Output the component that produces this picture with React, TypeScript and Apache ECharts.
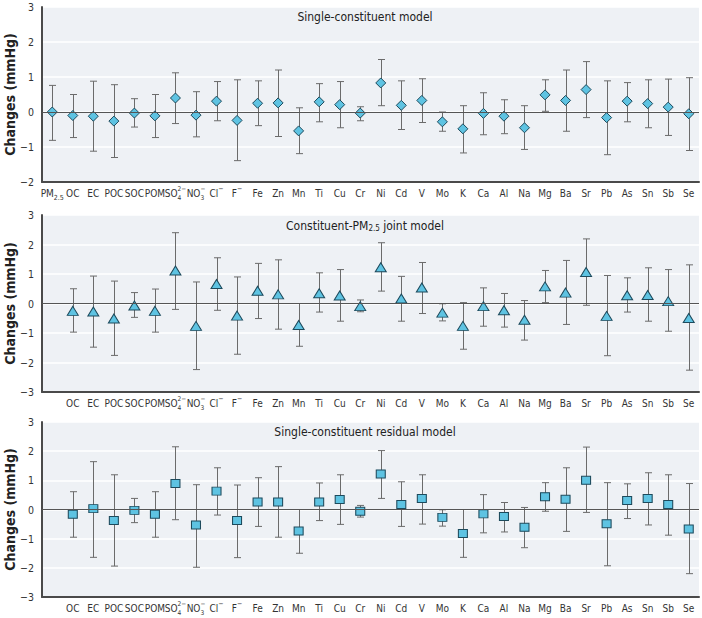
import { useEffect, useRef } from "react";
import * as echarts from "echarts";

const categories = ["PM2.5","OC","EC","POC","SOC","POM","SO4","NO3","Cl","F","Fe","Zn","Mn","Ti","Cu","Cr","Ni","Cd","V","Mo","K","Ca","Al","Na","Mg","Ba","Sr","Pb","As","Sn","Sb","Se"];

const labelRich: Record<string, string> = {
  "PM2.5": "PM{sub|2.5}",
  "SO4": "{b|SO}{st|4}{sp|2−}",
  "NO3": "{b|NO}{st|3}{sp|−}",
  "Cl": "Cl{sup|−}",
  "F": "F{sup|−}",
};

const panelTitles = ["Single-constituent model", "Constituent-PM{sub|2.5} joint model", "Single-constituent residual model"];
const yTitle = "Changes (mmHg)";

// Panel 1: single-constituent model
const single = [0.0,-0.10,-0.12,-0.26,-0.03,-0.11,0.40,-0.09,0.31,-0.24,0.25,0.26,-0.54,0.29,0.21,-0.03,0.83,0.19,0.33,-0.28,-0.48,-0.04,-0.12,-0.45,0.49,0.33,0.64,-0.16,0.31,0.24,0.14,-0.05];
const singleLo = [-0.81,-0.73,-1.12,-1.30,-0.43,-0.73,-0.33,-0.71,-0.25,-1.39,-0.39,-0.70,-1.19,-0.28,-0.45,-0.25,0.18,-0.50,-0.30,-0.55,-1.17,-0.65,-0.62,-1.07,0.02,-0.55,-0.16,-1.22,-0.28,-0.45,-0.67,-1.10];
const singleHi = [0.76,0.50,0.88,0.78,0.38,0.50,1.12,0.58,0.87,0.92,0.89,1.20,0.12,0.81,0.87,0.15,1.50,0.89,0.95,0.0,0.18,0.55,0.35,0.18,0.92,1.20,1.44,0.89,0.84,0.92,0.94,0.98];

// Panel 2: constituent-PM2.5 joint model
const joint = [null,-0.25,-0.27,-0.51,-0.07,-0.25,1.12,-0.76,0.66,-0.41,0.43,0.31,-0.73,0.35,0.27,-0.09,1.23,0.17,0.54,-0.31,-0.76,-0.09,-0.23,-0.55,0.58,0.37,1.07,-0.42,0.28,0.29,0.08,-0.49];
const jointLo = [null,-0.97,-1.48,-1.76,-0.47,-0.97,-0.20,-2.24,-0.23,-1.72,-0.51,-0.87,-1.45,-0.29,-0.60,-0.28,0.42,-0.60,-0.34,-0.59,-1.55,-0.77,-0.80,-1.24,0.03,-0.71,-0.06,-1.77,-0.29,-0.60,-0.94,-2.26];
const jointHi = [null,0.50,0.93,0.76,0.37,0.49,2.40,0.73,1.55,0.90,1.36,1.48,0.0,1.04,1.15,0.12,2.06,0.92,1.39,-0.01,0.03,0.53,0.34,0.10,1.12,1.46,2.19,0.95,0.87,1.21,1.15,1.31];

// Panel 3: single-constituent residual model
const residual = [null,-0.16,0.03,-0.38,-0.03,-0.16,0.89,-0.53,0.63,-0.38,0.26,0.26,-0.74,0.26,0.34,-0.06,1.22,0.17,0.38,-0.27,-0.82,-0.15,-0.24,-0.61,0.44,0.35,1.00,-0.49,0.31,0.38,0.17,-0.67];
const residualLo = [null,-0.95,-1.64,-1.94,-0.45,-0.95,-0.35,-1.98,-0.19,-1.65,-0.58,-0.95,-1.50,-0.38,-0.51,-0.26,0.38,-0.58,-0.50,-0.57,-1.64,-0.80,-0.77,-1.31,-0.06,-0.75,-0.10,-1.93,-0.31,-0.53,-0.88,-2.20];
const residualHi = [null,0.61,1.64,1.19,0.38,0.61,2.15,0.85,1.43,0.84,1.09,1.47,0.0,0.91,1.19,0.14,2.02,0.95,1.19,-0.01,0.0,0.51,0.24,0.07,0.92,1.43,2.14,0.92,0.88,1.26,1.19,0.89];

const yMins = [-2, -3, -3];
const yMaxs = [3, 3, 3];

const FONT = "'DejaVu Sans Condensed', 'Liberation Sans Narrow', 'Arial Narrow', sans-serif";
const MARKER_FILL = "#5ec3e2";
const MARKER_STROKE = "#1d4a5c";
const BAR_COLOR = "#6b6b6b";

const grids = [
  { left: 42, right: 3, top: 7, height: 175 },
  { left: 42, right: 3, top: 215, height: 177 },
  { left: 42, right: 3, top: 422, height: 175 },
];
const titleY = [17, 226, 432];
const symbols = ["diamond", "triangle", "rect"];
const symbolSizes: any[] = [[10, 10], [11, 9], [9, 8]];

export default function App() {
  const ref = useRef<HTMLDivElement>(null);
  useEffect(() => {
    document.body.style.margin = "0";
    const chart = echarts.init(ref.current!, null, { renderer: "svg" });
    const est = [single, joint, residual];
    const los = [singleLo, jointLo, residualLo];
    const his = [singleHi, jointHi, residualHi];

    const rich = {
      b: { fontSize: 10, fontFamily: FONT, color: "#333", align: "left" },
      st: { fontSize: 6.5, fontFamily: FONT, color: "#333", align: "left", width: 0, verticalAlign: "bottom", lineHeight: 7, padding: [9, 0, 0, 0] },
      sp: { fontSize: 6.5, fontFamily: FONT, color: "#333", align: "left", verticalAlign: "top", lineHeight: 7, padding: [0, 0, 9, 0] },
      sub: { fontSize: 7, fontFamily: FONT, color: "#333", verticalAlign: "bottom", lineHeight: 7, padding: [7, 0, 0, 0] },
      sup: { fontSize: 7, fontFamily: FONT, color: "#333", verticalAlign: "top", lineHeight: 7, padding: [0, 0, 7, 0] },
    };

    const xAxes = grids.map((_, gi) => ({
      type: "category",
      gridIndex: gi,
      data: categories,
      boundaryGap: true,
      axisLine: { show: true, onZero: false, lineStyle: { color: "#4a4a4a", width: 2 } },
      axisTick: { show: false },
      splitLine: { show: false },
      axisLabel: {
        interval: 0,
        margin: 3,
        fontSize: 10,
        lineHeight: 16,
        fontFamily: FONT,
        color: "#333",
        rich,
        formatter: (v: string) => {
          if (gi > 0 && v === "PM2.5") return "";
          return labelRich[v] ?? v;
        },
      },
    }));

    const yAxes = grids.map((_, gi) => ({
      type: "value",
      gridIndex: gi,
      min: yMins[gi],
      max: yMaxs[gi],
      interval: 1,
      axisLine: { show: true, lineStyle: { color: "#4a4a4a", width: 2 } },
      axisTick: { show: false },
      axisLabel: {
        fontFamily: FONT, fontSize: 10.5, color: "#333", margin: 8,
        formatter: (v: number) => (v < 0 ? "−" + Math.abs(v) : String(v)),
      },
      splitLine: { show: true, lineStyle: { color: "#ffffff", width: 1.5 } },
    }));

    const series: any[] = [];
    grids.forEach((_, gi) => {
      const barData: any[] = [];
      categories.forEach((_c, i) => {
        const lo = los[gi][i];
        const hi = his[gi][i];
        if (lo !== null && hi !== null) barData.push([i, lo, hi]);
      });
      series.push({
        type: "custom",
        xAxisIndex: gi,
        yAxisIndex: gi,
        z: 2,
        silent: true,
        encode: { x: 0, y: [1, 2] },
        data: barData,
        renderItem: (_p: any, api: any) => {
          const x = api.value(0);
          const pLo = api.coord([x, api.value(1)]);
          const pHi = api.coord([x, api.value(2)]);
          const cx = Math.round(pLo[0]) + 0.5;
          const w = 3.5;
          const st = { stroke: BAR_COLOR, lineWidth: 1 };
          return {
            type: "group",
            children: [
              { type: "line", shape: { x1: cx, y1: pHi[1], x2: cx, y2: pLo[1] }, style: st },
              { type: "line", shape: { x1: cx - w, y1: pHi[1], x2: cx + w, y2: pHi[1] }, style: st },
              { type: "line", shape: { x1: cx - w, y1: pLo[1], x2: cx + w, y2: pLo[1] }, style: st },
            ],
          };
        },
        markLine: {
          silent: true,
          symbol: "none",
          label: { show: false },
          lineStyle: { color: "#555", width: 1, type: "solid" },
          data: [{ yAxis: 0 }],
        },
      });
      series.push({
        type: "scatter",
        xAxisIndex: gi,
        yAxisIndex: gi,
        z: 3,
        symbol: symbols[gi],
        symbolSize: symbolSizes[gi],
        itemStyle: { color: MARKER_FILL, borderColor: MARKER_STROKE, borderWidth: 1, opacity: 1 },
        data: est[gi].map((v) => (v === null ? "-" : v)),
      });
    });

    const titleGraphics = panelTitles.map((t, gi) => ({
      type: "text",
      x: 365,
      y: titleY[gi],
      z: 10,
      style: {
        text: t,
        align: "center",
        verticalAlign: "middle",
        fontFamily: FONT,
        fontSize: 12,
        fill: "#222",
        rich: {
          sub: { fontSize: 8, fontFamily: FONT, fill: "#222", verticalAlign: "bottom", lineHeight: 8, padding: [7, 0, 0, 0] },
        },
      },
    }));
    const yTitleGraphics = grids.map((g) => ({
      type: "text",
      x: 10,
      y: g.top + g.height / 2,
      rotation: Math.PI / 2,
      z: 10,
      style: {
        text: yTitle,
        align: "center",
        verticalAlign: "middle",
        fontFamily: FONT,
        fontSize: 14,
        fontWeight: "bold",
        fill: "#222",
      },
    }));

    chart.setOption({
      animation: false,
      backgroundColor: "#ffffff",
      grid: grids.map((g) => ({ ...g, show: true, backgroundColor: "#eef1f5", borderWidth: 0, outerBoundsMode: "none" })),
      xAxis: xAxes,
      yAxis: yAxes,
      series,
      graphic: [...titleGraphics, ...yTitleGraphics],
    });
    return () => chart.dispose();
  }, []);
  return <div ref={ref} style={{ width: 702, height: 618 }} />;
}
